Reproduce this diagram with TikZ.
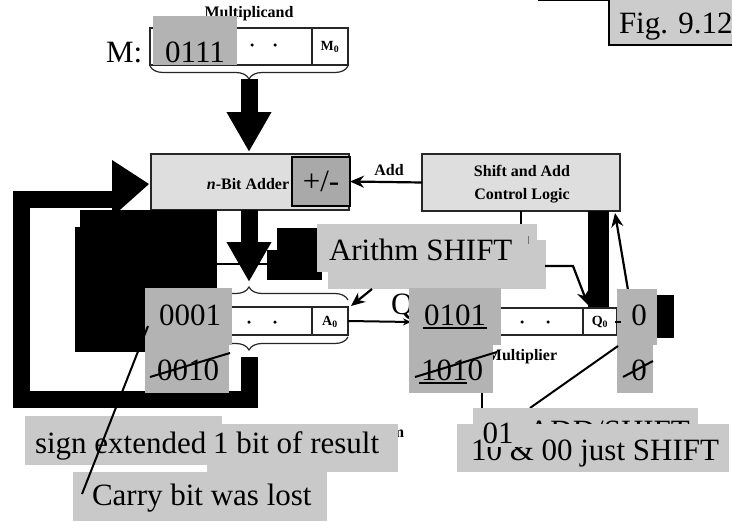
\documentclass[tikz,border=0pt]{standalone}
\usepackage{fontspec}
\setmainfont{Liberation Serif}
\usetikzlibrary{arrows.meta,decorations.pathreplacing}

\definecolor{cellgray}{HTML}{B3B3B3}
\definecolor{notegray}{HTML}{C9C9C9}
\definecolor{unitfill}{HTML}{DEDEDE}
\definecolor{pmgray}{HTML}{A9A9A9}
\definecolor{figgray}{HTML}{CCCCCC}

\begin{document}
\begin{tikzpicture}[x=1pt,y=-1pt,
  reg/.style={draw=black!85, line width=1.3pt, inner sep=0, outer sep=0, anchor=north west, fill=white},
  unit/.style={draw=black!85, line width=1.5pt, fill=unitfill, inner sep=0, outer sep=0, anchor=north west},
  patch/.style={inner sep=0, outer sep=0, anchor=north west},
  big/.style={font=\fontsize{31}{36}\selectfont, inner sep=0, outer sep=0},
  lbl/.style={font=\fontsize{16}{20}\selectfont\bfseries, inner sep=0, outer sep=0},
  sublbl/.style={font=\fontsize{14}{16}\selectfont\bfseries, inner sep=0, outer sep=0},
  block/.style={line width=17pt, -{Triangle[width=42pt,length=40pt]}},
  thinarrow/.style={line width=2.2pt, -{Stealth[length=14pt,width=12pt]}},
  brc/.style={decorate, decoration={brace, amplitude=13pt}, line width=1.2pt, draw=black!85},
  bitdot/.style={circle, fill=black, inner sep=0, minimum size=3.5pt},
  strike/.style={line width=2pt}
]
\useasboundingbox (0,0) rectangle (732,522);

% ---- caption in the upper right corner
\draw[line width=1.3pt] (538,0.7) -- (609,0.7);
\node[patch, draw, line width=1.3pt, fill=figgray, minimum width=130pt, minimum height=52pt] (fig) at (609,-7) {};
\node[big, anchor=base west] (figtxt) at (619,33) {Fig. 9.12};

% ---- multiplicand register M
\node[lbl, anchor=base] (mcand) at (249,17) {Multiplicand};
\node[reg, minimum width=198pt, minimum height=37pt] (mreg) at (150,28) {};
\draw[line width=1.3pt, black!85] (312,28) -- (312,65);
\node[bitdot] (md1) at (252,45) {};
\node[bitdot] (md2) at (275,45) {};
\node[sublbl] (m0) at (330,47) {M\textsubscript{0}};
\draw[brc] (348,66) -- (150,66);
\coordinate (mtip) at (249,79);
\node[big, anchor=base west] (mtag) at (106,62) {M:};
\node[patch, fill=cellgray, minimum width=84pt, minimum height=49pt] (mval) at (153,16) {};
\node[big, anchor=base] (mvaltxt) at (195,62) {0111};

% ---- adder and control logic
\coordinate (addin) at (249,152);
\draw[block] (mtip) -- (addin);
\node[unit, minimum width=198pt, minimum height=56pt] (adder) at (151,154) {};
\node[lbl] (addertxt) at (248,184) {\textit{n}-Bit Adder};
\node[patch, draw, line width=1.3pt, fill=pmgray, minimum width=58pt, minimum height=49pt] (pm) at (292,157) {};
\node[big] (pmtxt) at (321,181) {+/-};

\node[unit, minimum width=198pt, minimum height=57pt] (ctrl) at (422,154) {};
\node[lbl, align=center, font=\fontsize{16}{23}\selectfont\bfseries] (ctrltxt) at (522,184) {Shift and Add\\Control Logic};
\draw[thinarrow] (ctrl.west) -- (pm.east);
\node[lbl, anchor=base] (addlbl) at (389,175) {Add};

% control line towards the A register
\coordinate (cl1) at (521,211);
\coordinate (cl2) at (521,264);
\coordinate (cl3) at (217,264);
\draw[line width=2pt] (cl1) -- (cl2) -- (cl3);

% ---- feedback loop from A back into the adder
\coordinate (lp0) at (249,357);
\coordinate (lp1) at (249,399);
\coordinate (lp2) at (21,399);
\coordinate (lp3) at (21,199);
\coordinate (lp4) at (114,199);
\draw[line width=17pt, line join=miter] (lp0) -- (lp1) -- (lp2) -- (lp3) -- (lp4);
\fill (112,160) -- (149,184) -- (112,217) -- cycle;

% dark masks on the left
\fill (80,210) rectangle (217,352);
\fill (75,227) rectangle (217,352);

% ---- adder output into A
\coordinate (aout) at (249,210);
\coordinate (atip) at (249,282);
\draw[block] (aout) -- (atip);

% ---- register A
\node[reg, minimum width=198pt, minimum height=28pt] (areg) at (150,307) {};
\draw[line width=1.3pt, black!85] (312,307) -- (312,335);
\node[bitdot] (ad1) at (249,322) {};
\node[bitdot] (ad2) at (275,322) {};
\node[sublbl] (a0) at (330,322) {A\textsubscript{0}};
\draw[brc] (150,300) -- (348,300);
\draw[brc] (348,337) -- (150,337);

% ---- shift note
\fill (277,228) rectangle (322,280);
\fill (267,250) rectangle (300,280);
\node[patch, fill=notegray, minimum width=220pt, minimum height=48pt] (ar1) at (317,224) {};
\node[patch, fill=notegray, minimum width=218pt, minimum height=49pt] (ar2) at (328,240) {};
\node[big, anchor=base west] (artxt) at (329,260) {Arithm SHIFT};
\draw[line width=1pt, black!55] (528,236) -- (528,244);

\coordinate (sh1) at (545,266);
\coordinate (sh2) at (573,266);
\coordinate (sh3) at (588,305);
\draw[thinarrow] (sh1) -- (sh2) -- (sh3);
\coordinate (sa1) at (372,289);
\coordinate (sa2) at (351,306);
\draw[thinarrow] (sa1) -- (sa2);

% ---- register Q
\node[big, anchor=base west] (qtag) at (391,314) {Q};
\node[reg, minimum width=198pt, minimum height=27pt] (qreg) at (419,308) {};
\draw[line width=1.3pt, black!85] (583,308) -- (583,335);
\node[bitdot] (qd1) at (522,322) {};
\node[bitdot] (qd2) at (548,322) {};
\node[sublbl] (q0) at (600,322) {Q\textsubscript{0}};
\node[lbl, anchor=base] (mplier) at (522,360) {Multiplier};
\coordinate (qin) at (411,322);
\draw[line width=2pt, -{Stealth[length=8pt,width=7pt]}] (areg.east) -- (qin);

% control bus and status line
\fill (588,211) rectangle (609,307);
\coordinate (st1) at (628,290);
\coordinate (st2) at (615,213);
\draw[thinarrow] (st1) -- (st2);

% ---- register contents
\fill[cellgray] (145,288) rectangle (232,345);
\fill[cellgray] (145,345) rectangle (229,393);
\node[big, anchor=base] (aval) at (190,325) {0001};
\node[big, anchor=base] (aold) at (188,380) {0010};
\draw[strike] (150,377) -- (230,353);

\fill[cellgray] (409,288) rectangle (501,345);
\fill[cellgray] (409,345) rectangle (493,393);
\node[big, anchor=base] (qval) at (455,325) {0101};
\draw[line width=1.5pt] (423,328) -- (487,328);
\node[big, anchor=base] (qold) at (452,380) {1010};
\draw[line width=1.5pt] (419,383) -- (467,383);
\draw[strike] (415,377) -- (497,352);

\fill[cellgray] (617,289) rectangle (657,345);
\fill[cellgray] (617,345) rectangle (653,393);
\node[big, anchor=base] (qm1) at (639,325) {0};
\node[big, anchor=base] (qm1old) at (639,380) {0};
\draw[strike] (623,377) -- (653,361);
\draw[line width=2pt] (615,322) -- (621,322);
\fill (657,295) rectangle (674,338);

% pointers to the notes below
\coordinate (p1a) at (482,393);
\coordinate (p1b) at (482,408);
\draw[line width=2pt] (p1a) -- (p1b);
\coordinate (p2a) at (618,346);
\coordinate (p2b) at (530,408);
\draw[line width=2pt] (p2a) -- (p2b);

% ---- notes
\node[lbl, anchor=base] (cap) at (341,437) {(a) Block Diagram};
\node[patch, fill=notegray, minimum width=197pt, minimum height=49pt] (n1) at (25,416) {};
\node[big, anchor=base west] (n1txt) at (35,453) {sign extended};
\node[patch, fill=notegray, minimum width=191pt, minimum height=48pt] (n2) at (207,424) {};
\node[big, anchor=base west] (n2txt) at (213,453) {1 bit of result};
\node[patch, fill=notegray, minimum width=254pt, minimum height=49pt] (n3) at (73,472) {};
\node[big, anchor=base west] (n3txt) at (92,505) {Carry bit was lost};

\node[patch, fill=notegray, minimum width=225pt, minimum height=42pt] (n4) at (473,408) {};
\node[big, anchor=base west] (n4txt) at (528,441) {ADD/SHIFT};
\node[patch, fill=notegray, minimum width=272pt, minimum height=48pt] (n5) at (457,424) {};
\node[big, anchor=base west] (n5txt) at (471,460) {10 \& 00 just SHIFT};
\node[patch, fill=notegray, minimum width=48pt, minimum height=32pt] (n6) at (482,415) {};
\node[big, anchor=base] (n6txt) at (498,443) {01};

\coordinate (cb1) at (82,494);
\coordinate (cb2) at (148,326);
\draw[line width=2pt] (cb1) -- (cb2);
\end{tikzpicture}
\end{document}
